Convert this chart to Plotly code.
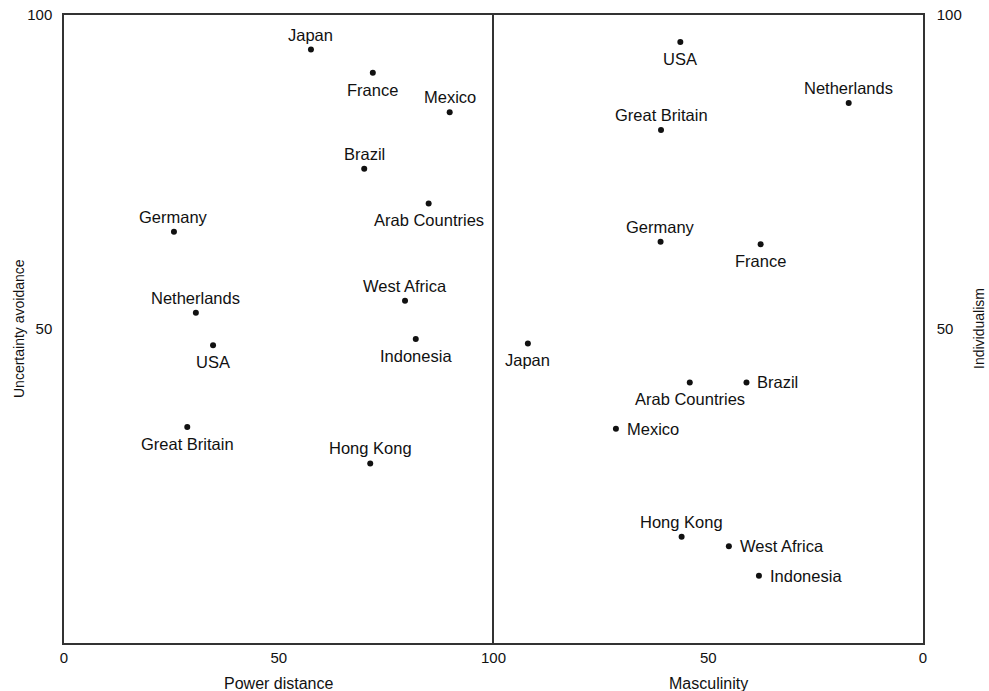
import plotly.graph_objects as go

# ---- data: left panel (Power distance vs Uncertainty avoidance)
left_countries = ["Japan", "France", "Mexico", "Brazil", "Arab Countries", "Germany",
                  "Netherlands", "USA", "Great Britain", "West Africa", "Indonesia", "Hong Kong"]
power_distance = [57.5, 71.9, 89.8, 69.9, 84.9, 25.6, 30.7, 34.7, 28.7, 79.4, 81.9, 71.3]
uncertainty_avoidance = [94.5, 90.8, 84.5, 75.5, 70.0, 65.5, 52.6, 47.4, 34.4, 54.5, 48.4, 28.6]

# ---- data: right panel (Masculinity vs Individualism)
right_countries = ["USA", "Netherlands", "Great Britain", "Germany", "France", "Japan",
                   "Arab Countries", "Brazil", "Mexico", "Hong Kong", "West Africa", "Indonesia"]
masculinity = [56.5, 17.3, 61.0, 61.1, 37.8, 92.0, 54.3, 41.1, 71.5, 56.2, 45.2, 38.2]
individualism = [95.7, 86.0, 81.7, 63.9, 63.5, 47.7, 41.5, 41.5, 34.1, 16.9, 15.4, 10.7]

left_x_ticks = [0, 50, 100]
right_x_ticks = [50, 0]
y_ticks = [50, 100]

# ---- label placement (style): "t" above, "b" below, "r" right of the dot
left_label_side = ["t", "b", "t", "t", "b", "t", "t", "b", "b", "t", "b", "t"]
right_label_side = ["b", "t", "t", "t", "b", "b", "b", "r", "r", "t", "r", "r"]

FONT = "Liberation Sans, Arial, Helvetica, sans-serif"
INK = "#111111"
LABEL_FONT = dict(family=FONT, size=16.5, color=INK)

fig = go.Figure()
fig.add_trace(go.Scatter(
    x=power_distance, y=uncertainty_avoidance, text=left_countries,
    mode="markers", marker=dict(color=INK, size=6),
    xaxis="x", yaxis="y", showlegend=False, hoverinfo="text+x+y"))
fig.add_trace(go.Scatter(
    x=masculinity, y=individualism, text=right_countries,
    mode="markers", marker=dict(color=INK, size=6),
    xaxis="x2", yaxis="y2", showlegend=False, hoverinfo="text+x+y"))

shift = {"t": dict(xshift=0, yshift=15, xanchor="center"),
         "b": dict(xshift=0, yshift=-17, xanchor="center"),
         "r": dict(xshift=9, yshift=0, xanchor="left")}

annotations = []
for name, xv, yv, side in zip(left_countries, power_distance, uncertainty_avoidance, left_label_side):
    annotations.append(dict(x=xv, y=yv, xref="x", yref="y", text=name, showarrow=False,
                            yanchor="middle", font=LABEL_FONT, **shift[side]))
for name, xv, yv, side in zip(right_countries, masculinity, individualism, right_label_side):
    annotations.append(dict(x=xv, y=yv, xref="x2", yref="y2", text=name, showarrow=False,
                            yanchor="middle", font=LABEL_FONT, **shift[side]))

# axis titles
annotations += [
    dict(text="Power distance", xref="paper", yref="paper", x=0.25, y=0, yshift=-40,
         xanchor="center", yanchor="middle", showarrow=False,
         font=dict(family=FONT, size=16, color=INK)),
    dict(text="Masculinity", xref="paper", yref="paper", x=0.75, y=0, yshift=-40,
         xanchor="center", yanchor="middle", showarrow=False,
         font=dict(family=FONT, size=16, color=INK)),
    dict(text="Uncertainty avoidance", xref="paper", yref="paper", x=0, y=0.5, xshift=-45,
         xanchor="center", yanchor="middle", textangle=-90, showarrow=False,
         font=dict(family=FONT, size=14, color=INK)),
    dict(text="Individualism", xref="paper", yref="paper", x=1, y=0.5, xshift=56,
         xanchor="center", yanchor="middle", textangle=-90, showarrow=False,
         font=dict(family=FONT, size=14, color=INK)),
]

axis_common = dict(showgrid=False, zeroline=False, showline=True, linecolor="#333333",
                   linewidth=1.5, ticks="", automargin=False,
                   tickfont=dict(family=FONT, size=15, color=INK))

fig.update_layout(
    width=989, height=691,
    paper_bgcolor="white", plot_bgcolor="white",
    margin=dict(l=64, r=66, t=15, b=48),
    font=dict(family=FONT, color=INK),
    annotations=annotations,
    xaxis=dict(domain=[0, 0.5], range=[0, 100], tickvals=left_x_ticks,
               ticktext=[str(v) for v in left_x_ticks],
               anchor="y", mirror=True, ticklabelstandoff=0, **axis_common),
    xaxis2=dict(domain=[0.5, 1], range=[100, 0], tickvals=right_x_ticks,
                ticktext=[str(v) for v in right_x_ticks],
                anchor="y2", mirror=True, ticklabelstandoff=0, **axis_common),
    yaxis=dict(range=[0, 100], tickvals=y_ticks, ticktext=[str(v) for v in y_ticks],
               anchor="x", mirror=False, ticklabelstandoff=7, **axis_common),
    yaxis2=dict(range=[0, 100], tickvals=y_ticks, ticktext=[str(v) for v in y_ticks],
                anchor="x2", side="right", mirror=True, ticklabelstandoff=9, **axis_common),
)

fig.write_html("out.html", config={"displayModeBar": False},
               post_script="document.body.style.margin='0';")
